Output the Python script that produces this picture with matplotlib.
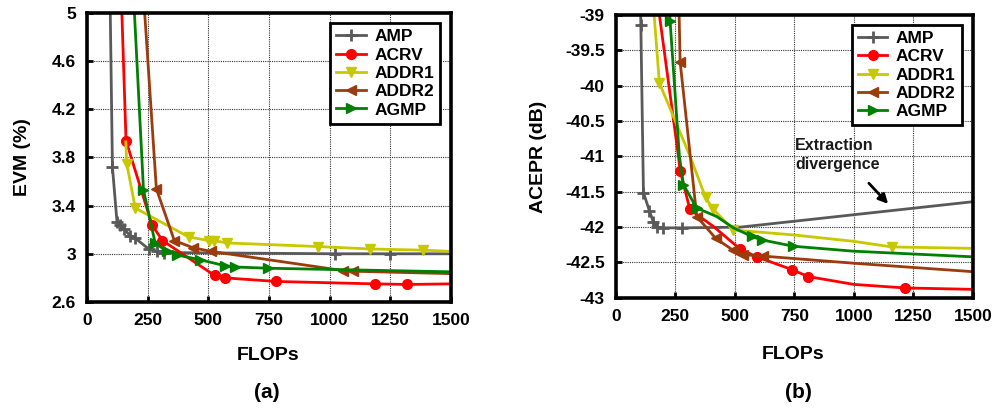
import matplotlib
matplotlib.use("Agg")
import matplotlib.pyplot as plt
from matplotlib.ticker import FuncFormatter

plt.rcParams['font.family'] = ['Liberation Sans', 'DejaVu Sans']
plt.rcParams['font.weight'] = 'bold'

# ---- panel (a): EVM vs FLOPs ----
amp_a_x = [94, 105, 124, 137, 151, 178, 199, 254, 288, 316, 1023, 1250, 1500]
amp_a_y = [5.3, 3.72, 3.26, 3.24, 3.21, 3.15, 3.13, 3.04, 3.02, 3.01, 3.00, 3.00, 3.00]
acrv_a_x = [139, 161, 268, 311, 526, 567, 780, 1185, 1318, 1500]
acrv_a_y = [5.3, 3.94, 3.24, 3.11, 2.82, 2.80, 2.77, 2.75, 2.745, 2.75]
addr1_a_x = [160, 164, 199, 419, 501, 522, 577, 954, 1166, 1384, 1500]
addr1_a_y = [3.93, 3.75, 3.38, 3.14, 3.11, 3.11, 3.09, 3.06, 3.04, 3.03, 3.02]
addr2_a_x = [228, 286, 360, 437, 511, 1057, 1096, 1500]
addr2_a_y = [5.3, 3.54, 3.11, 3.05, 3.02, 2.86, 2.855, 2.835]
agmp_a_x = [188, 233, 281, 330, 371, 467, 570, 611, 748, 1500]
agmp_a_y = [5.3, 3.53, 3.09, 3.02, 2.99, 2.95, 2.90, 2.89, 2.88, 2.85]

# ---- panel (b): ACEPR vs FLOPs ----
amp_b_x = [103, 105, 116, 141, 158, 175, 200, 280, 522, 1500]
amp_b_y = [-38.7, -39.14, -41.51, -41.77, -41.93, -42.0, -42.01, -42.01, -42.0, -41.64]
acrv_b_x = [171, 263, 270, 311, 410, 466, 522, 592, 739, 809, 1000, 1214, 1500]
acrv_b_y = [-38.7, -41.0, -41.2, -41.75, -41.99, -42.15, -42.31, -42.42, -42.6, -42.7,
            -42.81, -42.86, -42.88]
addr1_b_x = [154, 183, 312, 377, 410, 494, 746, 998, 1160, 1500]
addr1_b_y = [-38.7, -39.96, -41.0, -41.58, -41.75, -42.04, -42.11, -42.2, -42.28, -42.3]
addr2_b_x = [264, 270, 340, 420, 494, 536, 620, 998, 1500]
addr2_b_y = [-38.7, -39.66, -41.85, -42.16, -42.33, -42.39, -42.41, -42.51, -42.63]
agmp_b_x = [222, 228, 267, 284, 340, 424, 494, 571, 613, 746, 998, 1500]
agmp_b_y = [-38.7, -39.09, -41.0, -41.40, -41.73, -41.85, -42.01, -42.13, -42.18, -42.27,
            -42.34, -42.42]

labels = ['AMP', 'ACRV', 'ADDR1', 'ADDR2', 'AGMP']
colors = ['#595959', '#ff0000', '#c8c800', '#9c3c0c', '#008000']
markers = ['+', 'o', 'v', '<', '>']
xticks = [0, 250, 500, 750, 1000, 1250, 1500]

fig = plt.figure(figsize=(10.03, 4.08), dpi=100)
ax_a = fig.add_axes([0.0867, 0.260, 0.3629, 0.708])
ax_b = fig.add_axes([0.614, 0.270, 0.356, 0.693])

series_a = [
    (amp_a_x, amp_a_y, list(range(1, 12))),
    (acrv_a_x, acrv_a_y, list(range(1, 9))),
    (addr1_a_x, addr1_a_y, list(range(1, 10))),
    (addr2_a_x, addr2_a_y, list(range(1, 7))),
    (agmp_a_x, agmp_a_y, list(range(1, 9))),
]
series_b = [
    (amp_b_x, amp_b_y, list(range(1, 8))),
    (acrv_b_x, acrv_b_y, [2, 3, 6, 7, 8, 9, 11]),
    (addr1_b_x, addr1_b_y, [1, 3, 4, 5, 8]),
    (addr2_b_x, addr2_b_y, [1, 2, 3, 4, 5, 6]),
    (agmp_b_x, agmp_b_y, [1, 3, 4, 7, 8, 9]),
]


def style_axes(ax, ylim, yticks):
    ax.set_xlim(0, 1500)
    ax.set_ylim(*ylim)
    ax.set_xticks(xticks)
    ax.set_yticks(yticks)
    ax.yaxis.set_major_formatter(FuncFormatter(lambda v, p: '%g' % round(v, 2)))
    ax.grid(True, linestyle=(0, (1, 1)), color='#333333', linewidth=0.8)
    for s in ax.spines.values():
        s.set_linewidth(2.6)
    ax.tick_params(direction='in', length=4, width=2, labelsize=12.5, pad=8)
    for t in ax.get_xticklabels() + ax.get_yticklabels():
        t.set_fontweight('bold')


for ax, series in ((ax_a, series_a), (ax_b, series_b)):
    for (x, y, mk), lab, c, m in zip(series, labels, colors, markers):
        ms = 9 if m == '+' else 7
        ax.plot(x, y, color=c, lw=2, marker=m, markevery=mk, ms=ms, mew=2 if m == '+' else 1,
                label=lab, clip_on=True)

style_axes(ax_a, (2.6, 5), [2.6, 3, 3.4, 3.8, 4.2, 4.6, 5])
style_axes(ax_b, (-43, -39), [-43, -42.5, -42, -41.5, -41, -40.5, -40, -39.5, -39])

for ax, anchor in ((ax_a, (0.97, 0.965)), (ax_b, (0.969, 0.965))):
    leg = ax.legend(loc='upper right', bbox_to_anchor=anchor, borderaxespad=0,
                    fancybox=False, framealpha=1, edgecolor='black',
                    prop={'size': 12.5, 'weight': 'bold'}, handlelength=1.7,
                    handletextpad=0.5, labelspacing=0.18, borderpad=0.35)
    leg.get_frame().set_linewidth(2)

ax_a.set_xlabel('FLOPs', fontsize=14, fontweight='bold')
ax_a.xaxis.set_label_coords(0.497, -0.187)
ax_a.xaxis.label.set_va('center')
ax_a.set_ylabel('EVM (%)', fontsize=14, fontweight='bold')
ax_a.yaxis.set_label_coords(-0.176, 0.5)
ax_a.yaxis.label.set_va('center')

ax_b.set_xlabel('FLOPs', fontsize=14, fontweight='bold')
ax_b.xaxis.set_label_coords(0.496, -0.201)
ax_b.xaxis.label.set_va('center')
ax_b.set_ylabel('ACEPR (dB)', fontsize=14, fontweight='bold')
ax_b.yaxis.set_label_coords(-0.216, 0.498)
ax_b.yaxis.label.set_va('center')

ax_b.text(753, -40.74, 'Extraction\ndivergence', fontsize=11.5, fontweight='bold',
          ha='left', va='top', linespacing=1.35, color='#1a1a1a')
ax_b.annotate('', xy=(1152, -41.7), xytext=(1055, -41.35),
              arrowprops=dict(arrowstyle='-|>', color='black', lw=2, mutation_scale=14))

fig.text(0.266, 0.039, '(a)', fontsize=15, fontweight='bold', ha='center', va='center')
fig.text(0.796, 0.039, '(b)', fontsize=15, fontweight='bold', ha='center', va='center')

fig.savefig('out.png', dpi=100)
